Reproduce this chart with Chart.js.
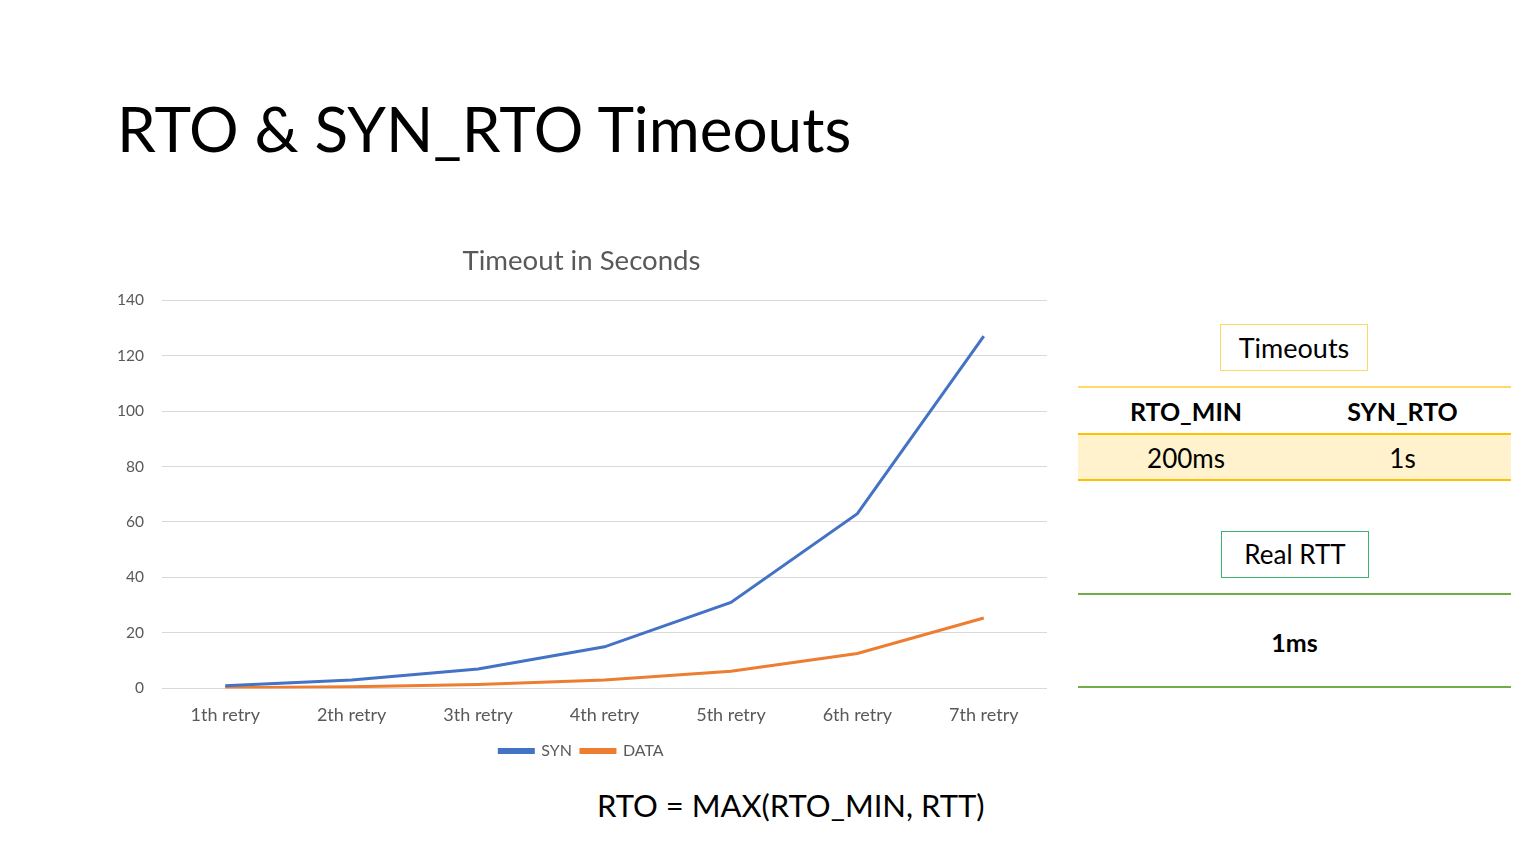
<!DOCTYPE html>
<html>
<head>
<meta charset="utf-8">
<script src="https://cdn.jsdelivr.net/npm/chart.js@4.4.1/dist/chart.umd.min.js"></script>
<style>
  html, body { margin: 0; padding: 0; background: #fff; width: 1536px; height: 864px; overflow: hidden; font-family: Lato, "Open Sans", sans-serif; }
  .abs { position: absolute; white-space: nowrap; }
  #title { left: 117px; top: 88px; font-size: 62px; line-height: 80px; color: #000; }
  #chartBox { position: absolute; left: 100px; top: 240px; width: 960px; height: 529px; }
  .box { position: absolute; box-sizing: border-box; text-align: center; font-size: 26px; color: #000; }
  .hline { position: absolute; left: 1078px; width: 433px; }
  .cell { position: absolute; text-align: center; font-size: 25px; color: #000; }
  #formula { left: 597px; top: 785px; font-size: 31px; line-height: 40px; color: #000; }
</style>
</head>
<body>
<div id="title" class="abs">RTO &amp; SYN_RTO Timeouts</div>
<div id="chartBox"><canvas id="c"></canvas></div>

<div class="box" style="left:1220px; top:324px; width:148px; height:47px; line-height:45px; border:1.5px solid #FFD966; font-size:27px;">Timeouts</div>
<div class="hline" style="top:386px; height:2px; background:#FFD966;"></div>
<div class="cell" style="left:1078px; width:216px; top:392px; line-height:38px; font-weight:bold;">RTO_MIN</div>
<div class="cell" style="left:1294px; width:217px; top:392px; line-height:38px; font-weight:bold;">SYN_RTO</div>
<div class="hline" style="top:433px; height:48px; background:#FFF2CC; border-top:2px solid #FFC000; border-bottom:2px solid #FFC000; box-sizing:border-box;"></div>
<div class="cell" style="left:1078px; width:216px; top:438px; line-height:40px; font-size:26px;">200ms</div>
<div class="cell" style="left:1294px; width:217px; top:438px; line-height:40px; font-size:26px;">1s</div>

<div class="box" style="left:1221px; top:531px; width:148px; height:47px; line-height:45px; border:1.5px solid #3CB371;">Real RTT</div>
<div class="hline" style="top:593px; height:2px; background:#70AD47;"></div>
<div class="cell" style="left:1078px; width:433px; top:622px; line-height:40px; font-weight:bold;">1ms</div>
<div class="hline" style="top:686px; height:2px; background:#70AD47;"></div>

<div id="formula" class="abs">RTO = MAX(RTO_MIN, RTT)</div>

<script>
const categories = ["1th retry", "2th retry", "3th retry", "4th retry", "5th retry", "6th retry", "7th retry"];
const synValues = [1, 3, 7, 15, 31, 63, 127];
const dataValues = [0.2, 0.6, 1.4, 3, 6.2, 12.6, 25.4];
const yTicks = [0, 20, 40, 60, 80, 100, 120, 140];

const grey = '#595959';
new Chart(document.getElementById('c'), {
  type: 'line',
  data: {
    labels: categories,
    datasets: [
      { label: 'SYN', data: synValues, borderColor: '#4472C4', backgroundColor: '#4472C4', borderWidth: 3, pointRadius: 0, tension: 0 },
      { label: 'DATA', data: dataValues, borderColor: '#ED7D31', backgroundColor: '#ED7D31', borderWidth: 3, pointRadius: 0, tension: 0 }
    ]
  },
  options: {
    responsive: true,
    maintainAspectRatio: false,
    animation: false,
    layout: { padding: { left: 16, right: 13, top: 0, bottom: 0 } },
    plugins: {
      title: { display: true, text: 'Timeout in Seconds', color: grey, font: { family: 'Lato', size: 27.6, weight: 'normal' }, padding: { top: 5, bottom: 22 } },
      legend: {
        position: 'bottom',
        labels: { color: grey, font: { family: 'Lato', size: 16 }, boxWidth: 34, boxHeight: 3, padding: 9 }
      },
      tooltip: { enabled: false }
    },
    scales: {
      x: {
        offset: true,
        grid: { display: false },
        border: { display: false },
        ticks: { color: grey, font: { family: 'Lato', size: 18 }, padding: 8, maxRotation: 0 }
      },
      y: {
        min: 0, max: 140,
        afterBuildTicks: (s) => { s.ticks = yTicks.map(v => ({ value: v })); },
        afterFit: (s) => { s.width = 46; },
        grid: { color: '#d9d9d9', drawTicks: false, lineWidth: 1 },
        border: { display: false },
        ticks: { color: grey, font: { family: 'Lato', size: 15.5 }, padding: 18 }
      }
    }
  }
});
</script>
</body>
</html>
